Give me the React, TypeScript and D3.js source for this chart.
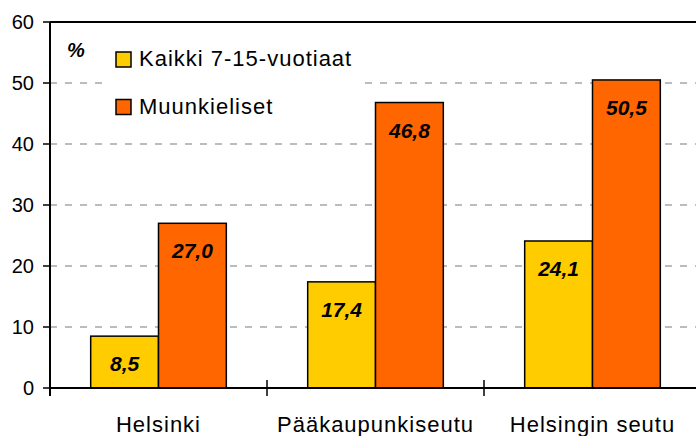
import React from 'react'
import * as d3 from 'd3'

const categories = ['Helsinki', 'Pääkaupunkiseutu', 'Helsingin seutu']
const seriesNames = ['Kaikki 7-15-vuotiaat', 'Muunkieliset']
const kaikki = [8.5, 17.4, 24.1]
const muunkieliset = [27.0, 46.8, 50.5]
const yTicks = [0, 10, 20, 30, 40, 50, 60]
const colors = ['#FFCC00', '#FF6600']

const W = 696
const H = 436
const left = 50
const right = 701
const top = 22
const bottom = 388
const font = '"Liberation Sans", Arial, sans-serif'

export default function App() {
  const y = d3.scaleLinear().domain([0, 60]).range([bottom, top])
  const x0 = d3.scaleBand<string>().domain(categories).range([left, right])
  const x1 = d3
    .scaleBand<string>()
    .domain(seriesNames)
    .range([0, x0.bandwidth()])
    .paddingInner(0)
    .paddingOuter(0.6)
  const series = [kaikki, muunkieliset]
  const fmt = (v: number) => v.toFixed(1).replace('.', ',')
  const xTicks = [...categories.map((c) => x0(c) as number), right]

  return (
    <svg
      width={W}
      height={H}
      style={{ position: 'absolute', left: 0, top: 0, background: '#fff' }}
      fontFamily={font}
    >
      {/* gridlines */}
      {yTicks
        .filter((t) => t > 0 && t < 60)
        .map((t) => (
          <line
            key={'g' + t}
            x1={left}
            x2={W}
            y1={y(t)}
            y2={y(t)}
            stroke="#7a7a7a"
            strokeWidth={1.2}
            strokeDasharray="7 8"
          />
        ))}
      {/* legend box */}
      <rect x={105} y={32} width={253} height={96} fill="#fff" />
      {/* bars */}
      {series.map((vals, si) =>
        vals.map((v, ci) => {
          const bx = (x0(categories[ci]) as number) + (x1(seriesNames[si]) as number)
          return (
            <g key={si + '-' + ci}>
              <rect
                x={bx}
                y={y(v)}
                width={x1.bandwidth()}
                height={y(0) - y(v)}
                fill={colors[si]}
                stroke="#000"
                strokeWidth={1.5}
              />
              <text
                x={bx + x1.bandwidth() / 2}
                y={y(v) + 35}
                textAnchor="middle"
                fontSize={21}
                fontWeight="bold"
                fontStyle="italic"
              >
                {fmt(v)}
              </text>
            </g>
          )
        })
      )}
      {/* axes */}
      <line x1={left} x2={W} y1={top} y2={top} stroke="#000" strokeWidth={2} />
      <line x1={left} x2={left} y1={top} y2={bottom + 8} stroke="#000" strokeWidth={2} />
      <line x1={left} x2={W} y1={bottom} y2={bottom} stroke="#000" strokeWidth={2} />
      {yTicks.map((t) => (
        <g key={'y' + t}>
          <line x1={left - 7} x2={left} y1={y(t)} y2={y(t)} stroke="#000" strokeWidth={1.5} />
          <text x={34} y={y(t) + 7} textAnchor="end" fontSize={20}>
            {t}
          </text>
        </g>
      ))}
      {xTicks.map((t, i) => (
        <line
          key={'xt' + i}
          x1={t}
          x2={t}
          y1={bottom - 8}
          y2={bottom + 8}
          stroke="#000"
          strokeWidth={1.5}
        />
      ))}
      {categories.map((c) => (
        <text
          key={c}
          x={(x0(c) as number) + x0.bandwidth() / 2}
          y={432}
          textAnchor="middle"
          fontSize={22}
          letterSpacing={1}
        >
          {c}
        </text>
      ))}
      {/* legend */}
      <text x={67} y={57} fontSize={20} fontWeight="bold" fontStyle="italic">
        %
      </text>
      {seriesNames.map((s, i) => (
        <g key={s}>
          <rect
            x={116}
            y={52 + i * 47.5}
            width={15}
            height={15}
            fill={colors[i]}
            stroke="#000"
            strokeWidth={1.5}
          />
          <text x={139} y={66 + i * 48} fontSize={22} letterSpacing={1}>
            {s}
          </text>
        </g>
      ))}
    </svg>
  )
}
